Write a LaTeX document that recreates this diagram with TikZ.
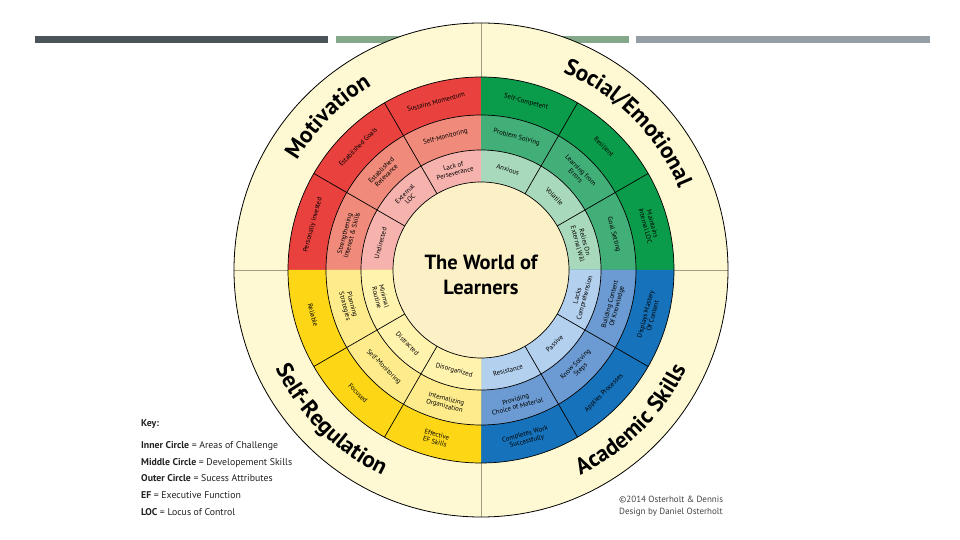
\documentclass[tikz,border=0pt]{standalone}
\usepackage{fontspec}
\setmainfont{PT Sans}
\usetikzlibrary{decorations.text}
\definecolor{bardark}{HTML}{4A5459}
\definecolor{bargreen}{HTML}{84A98A}
\definecolor{bargray}{HTML}{959DA5}
\definecolor{cream}{HTML}{FEF9D2}
\definecolor{centerfill}{HTML}{FCF0C6}
\definecolor{quadline}{HTML}{A09F80}
\definecolor{motA}{HTML}{E8413E}
\definecolor{motB}{HTML}{F08A7A}
\definecolor{motC}{HTML}{F6B3AE}
\definecolor{socA}{HTML}{0A9C4A}
\definecolor{socB}{HTML}{42AE78}
\definecolor{socC}{HTML}{A9D9BC}
\definecolor{acaA}{HTML}{1672BA}
\definecolor{acaB}{HTML}{6B9BD2}
\definecolor{acaC}{HTML}{B3D0EE}
\definecolor{slfA}{HTML}{FDD716}
\definecolor{slfB}{HTML}{FEEC8C}
\definecolor{slfC}{HTML}{FFF3AE}
\definecolor{keytext}{HTML}{222222}
\definecolor{credtext}{HTML}{444444}
\newcommand\titlefont{\fontsize{23}{23}\selectfont\bfseries}
\newcommand\seglabel[4]{%
  \pgfmathsetmacro\segrot{#2<180 ? #2-90 : #2+90}%
  \node[seglbl, rotate=\segrot] (#1) at (#2:#3pt) {#4};}
\tikzset{
  seglbl/.style={font=\fontsize{6.8}{7.4}\selectfont, align=center, inner sep=0pt, text=black},
  ringline/.style={draw=black, line width=0.7pt},
  keytxt/.style={font=\fontsize{9.8}{11}\selectfont, text=keytext, inner sep=0pt, anchor=base west},
  credtxt/.style={font=\fontsize{9}{11}\selectfont, text=credtext, inner sep=0pt, anchor=base west}
}
\begin{document}
\begin{tikzpicture}[x=1pt,y=1pt]
\useasboundingbox[fill=white] (-481,-270) rectangle (479,270);
% top bars
\fill[bardark] (-446,226.5) rectangle (-153,233.5);
\fill[bargreen] (-145,226.5) rectangle (148,233.5);
\fill[bargray] (155,226.5) rectangle (449,233.5);
% outer cream ring
\fill[cream] (0,0) circle[radius=247pt];
\draw[quadline, line width=0.8pt] (-247,0) -- (247,0) (0,-247) -- (0,247);
% quadrant fills
\foreach \a/\ca/\cb/\cc in {90/motA/motB/motC, 0/socA/socB/socC, 270/acaA/acaB/acaC, 180/slfA/slfB/slfC}{
  \fill[\ca] (0,0) -- (\a:193pt) arc[start angle=\a, end angle=\a+90, radius=193pt] -- cycle;
  \fill[\cb] (0,0) -- (\a:155pt) arc[start angle=\a, end angle=\a+90, radius=155pt] -- cycle;
  \fill[\cc] (0,0) -- (\a:120pt) arc[start angle=\a, end angle=\a+90, radius=120pt] -- cycle;
}
\foreach \a in {30,60,120,150,210,240,300,330}
  \draw[ringline] (\a:88pt) -- (\a:193pt);
\draw[ringline] (0,0) circle[radius=193pt];
\draw[ringline] (0,0) circle[radius=155pt];
\draw[ringline] (0,0) circle[radius=120pt];
\draw[ringline, fill=centerfill] (0,0) circle[radius=88pt];
\draw[black, line width=0.8pt] (0,0) circle[radius=247pt];
% centre title
\node[font=\fontsize{20.5}{25}\selectfont\bfseries, align=center, inner sep=0pt] (centre) at (0,-5) {The World of\\Learners};
% curved titles
\path[decorate, decoration={text along path, text align=center, text={|\titlefont|Motivation}}]
  (180:214pt) arc[start angle=180, end angle=90, radius=214pt];
\path[decorate, decoration={text along path, text align=center, text={|\titlefont|Social/Emotional}}]
  (90:214pt) arc[start angle=90, end angle=0, radius=214pt];
\path[decorate, decoration={text along path, text align=center, text={|\titlefont|Self-Regulation}}]
  (180:228pt) arc[start angle=180, end angle=270, radius=228pt];
\path[decorate, decoration={text along path, text align=center, text={|\titlefont|Academic Skills}}]
  (270:228pt) arc[start angle=270, end angle=360, radius=228pt];
% Motivation
\seglabel{m1}{105}{174}{Sustains Momentum}
\seglabel{m2}{135}{174}{Established Goals}
\seglabel{m3}{165}{174}{Personally Invested}
\seglabel{m4}{105}{137.5}{Self-Monitoring}
\seglabel{m5}{135}{137.5}{Established\\Relevance}
\seglabel{m6}{165}{137.5}{Strengthening\\Interest \& Skills}
\seglabel{m7}{105}{104}{Lack of\\Perseverance}
\seglabel{m8}{135}{104}{External\\LOC}
\seglabel{m9}{165}{104}{Undirected}
% Social/Emotional
\seglabel{s1}{75}{174}{Self-Competent}
\seglabel{s2}{45}{174}{Resilient}
\seglabel{s3}{15}{174}{Maintains\\Internal LOC}
\seglabel{s4}{75}{137.5}{Problem Solving}
\seglabel{s5}{45}{137.5}{Learning from\\Errors}
\seglabel{s6}{15}{137.5}{Goal Setting}
\seglabel{s7}{75}{104}{Anxious}
\seglabel{s8}{45}{104}{Volatile}
\seglabel{s9}{15}{104}{Relies On\\External Will}
% Academic Skills
\seglabel{a1}{345}{174}{Displays Mastery\\Of Content}
\seglabel{a2}{315}{174}{Applies Processes}
\seglabel{a3}{285}{174}{Completes Work\\Successfully}
\seglabel{a4}{345}{137.5}{Building Content\\Of Knowledge}
\seglabel{a5}{315}{137.5}{Know Solving\\Steps}
\seglabel{a6}{285}{137.5}{Providing\\Choice of Material}
\seglabel{a7}{345}{104}{Lacks\\Comprehension}
\seglabel{a8}{315}{104}{Passive}
\seglabel{a9}{285}{104}{Resistance}
% Self-Regulation
\seglabel{r1}{195}{174}{Reliable}
\seglabel{r2}{225}{174}{Focused}
\seglabel{r3}{255}{174}{Effective\\EF Skills}
\seglabel{r4}{195}{137.5}{Planning\\Strategies}
\seglabel{r5}{225}{137.5}{Self-Monitoring}
\seglabel{r6}{255}{137.5}{Internalizing\\Organization}
\seglabel{r7}{195}{104}{Minimal\\Routine}
\seglabel{r8}{225}{104}{Distracted}
\seglabel{r9}{255}{104}{Disorganized}
% key
\node[keytxt] (k0) at (-340,-157) {\textbf{Key:}};
\node[keytxt] (k1) at (-340,-178) {\textbf{Inner Circle} = Areas of Challenge};
\node[keytxt] (k2) at (-340,-195) {\textbf{Middle Circle} = Developement Skills};
\node[keytxt] (k3) at (-340,-211.5) {\textbf{Outer Circle} = Sucess Attributes};
\node[keytxt] (k4) at (-340,-228) {\textbf{EF} = Executive Function};
\node[keytxt] (k5) at (-340,-245) {\textbf{LOC} = Locus of Control};
% credits
\node[credtxt] (c1) at (138,-232.5) {©2014 Osterholt \& Dennis};
\node[credtxt] (c2) at (138,-244) {Design by Daniel Osterholt};
\end{tikzpicture}
\end{document}
